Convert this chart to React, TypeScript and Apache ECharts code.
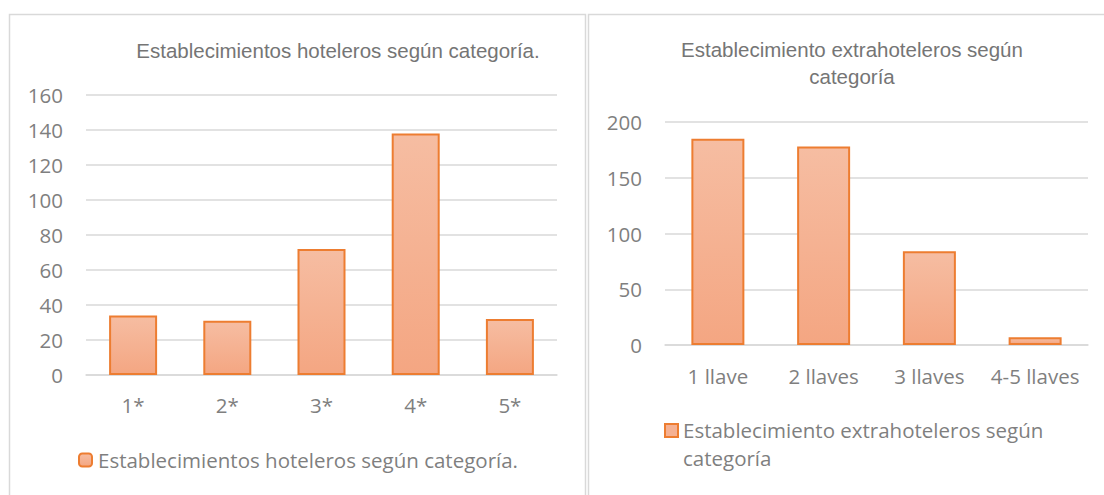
import React, { useEffect, useRef } from "react";
import * as echarts from "echarts";

const hotelCats = ["1*", "2*", "3*", "4*", "5*"];
const hotelValues = [34, 31, 72, 138, 32];
const hotelTitle = "Establecimientos hoteleros según categoría.";

const extraCats = ["1 llave", "2 llaves", "3 llaves", "4-5 llaves"];
const extraValues = [185, 178, 84, 7];
const extraTitle = "Establecimiento extrahoteleros según\ncategoría";
const extraLegend = "Establecimiento extrahoteleros según\ncategoría";

const gray = "#7f7f7f";
const labelFont = "'Open Sans', 'Noto Sans', sans-serif";
const titleFont = "'Liberation Sans', Arial, sans-serif";

const barFill = new echarts.graphic.LinearGradient(0, 0, 0, 1, [
  { offset: 0, color: "#F6BDA2" },
  { offset: 1, color: "#F4A682" },
]);

export default function App() {
  const ref = useRef<HTMLDivElement>(null);
  useEffect(() => {
    document.body.style.margin = "0";
    const chart = echarts.init(ref.current!, null, { renderer: "svg" });
    const axisLabel = { color: gray, fontSize: 20.5, fontFamily: labelFont };
    chart.setOption({
      animation: false,
      backgroundColor: "#ffffff",
      title: [
        {
          text: hotelTitle,
          left: 338,
          top: 38,
          padding: 0,
          textAlign: "center",
          textStyle: { color: "#757575", fontSize: 20.5, fontWeight: "normal", fontFamily: titleFont, lineHeight: 25 },
        },
        {
          text: extraTitle,
          left: 852,
          top: 36,
          padding: 0,
          textAlign: "center",
          textStyle: { color: "#757575", fontSize: 20.5, fontWeight: "normal", fontFamily: titleFont, lineHeight: 27 },
        },
      ],
      legend: [
        {
          data: [hotelTitle],
          left: 78,
          top: 447,
          padding: 0,
          itemWidth: 13,
          itemHeight: 13,
          textStyle: { color: gray, fontSize: 20.5, fontFamily: labelFont, lineHeight: 26, padding: [0, 0, 0, 1] },
        },
        {
          data: [extraLegend],
          left: 664,
          top: 416,
          padding: 0,
          itemWidth: 13,
          itemHeight: 13,
          itemStyle: { opacity: 0 },
          textStyle: { color: gray, fontSize: 20.5, fontFamily: labelFont, lineHeight: 28 },
        },
      ],
      graphic: [
        {
          type: "rect",
          shape: { x: 9.5, y: 14.5, width: 576, height: 500 },
          style: { fill: "none", stroke: "#d9d9d9", lineWidth: 1.5 },
          silent: true,
        },
        {
          type: "rect",
          shape: { x: 588.5, y: 14.5, width: 540, height: 500 },
          style: { fill: "none", stroke: "#d9d9d9", lineWidth: 1.5 },
          silent: true,
        },
        {
          type: "rect",
          shape: { x: 665, y: 424, width: 13, height: 13 },
          style: { fill: "#F5B193", stroke: "#ED7D31", lineWidth: 2 },
          silent: true,
        },
      ],
      grid: [
        { left: 86, top: 95, width: 471, height: 280 },
        { left: 665, top: 122, width: 423, height: 223 },
      ],
      xAxis: [
        {
          type: "category",
          gridIndex: 0,
          data: hotelCats,
          axisLine: { lineStyle: { color: "#d9d9d9", width: 1.5 } },
          axisTick: { show: false },
          axisLabel: { ...axisLabel, margin: 19, interval: 0 },
        },
        {
          type: "category",
          gridIndex: 1,
          data: extraCats,
          axisLine: { lineStyle: { color: "#d9d9d9", width: 1.5 } },
          axisTick: { show: false },
          axisLabel: { ...axisLabel, margin: 20, interval: 0 },
        },
      ],
      yAxis: [
        {
          type: "value",
          gridIndex: 0,
          min: 0,
          max: 160,
          interval: 20,
          axisLine: { show: false },
          axisTick: { show: false },
          axisLabel: { ...axisLabel, margin: 23 },
          splitLine: { lineStyle: { color: "#d9d9d9", width: 1.5 } },
        },
        {
          type: "value",
          gridIndex: 1,
          min: 0,
          max: 200,
          interval: 50,
          axisLine: { show: false },
          axisTick: { show: false },
          axisLabel: { ...axisLabel, margin: 23 },
          splitLine: { lineStyle: { color: "#d9d9d9", width: 1.5 } },
        },
      ],
      series: [
        {
          name: hotelTitle,
          type: "bar",
          xAxisIndex: 0,
          yAxisIndex: 0,
          data: hotelValues,
          barWidth: 48,
          itemStyle: { color: barFill, borderColor: "#ED7D31", borderWidth: 2 },
        },
        {
          name: extraLegend,
          type: "bar",
          xAxisIndex: 1,
          yAxisIndex: 1,
          data: extraValues,
          barWidth: 53,
          itemStyle: { color: barFill, borderColor: "#ED7D31", borderWidth: 2 },
        },
      ],
    });
    return () => chart.dispose();
  }, []);
  return <div ref={ref} style={{ width: 1104, height: 495 }} />;
}
